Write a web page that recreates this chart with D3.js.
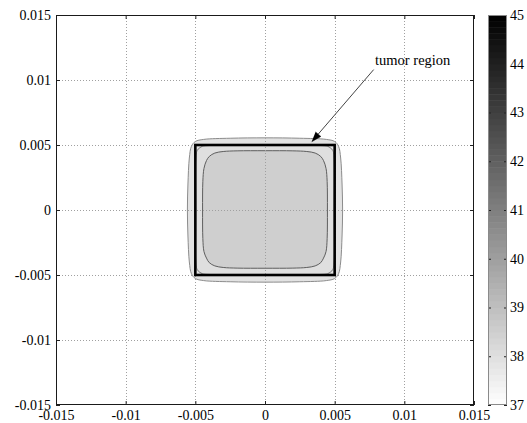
<!DOCTYPE html>
<html><head><meta charset="utf-8">
<script src="https://cdn.jsdelivr.net/npm/d3@7"></script>
<style>body{margin:0;background:#fff}svg{display:block}svg text{font-family:"Liberation Serif",serif !important}</style>
</head><body>
<script>
// ---- data ----
const xTicks = [-0.015, -0.01, -0.005, 0, 0.005, 0.01, 0.015];
const yTicks = [-0.015, -0.01, -0.005, 0, 0.005, 0.01, 0.015];
const xTickLabels = ["-0.015", "-0.01", "-0.005", "0", "0.005", "0.01", "0.015"];
const yTickLabels = ["-0.015", "-0.01", "-0.005", "0", "0.005", "0.01", "0.015"];
const cbTicks = [37, 38, 39, 40, 41, 42, 43, 44, 45];
const cbRange = [37, 45];
const contourLevels = [37.9, 38.0, 38.5];
const outerContour = [
  [0, 0.00555], [0.0025, 0.00552], [0.0044, 0.00543], [0.0050, 0.00527], [0.00528, 0.0049],
  [0.00543, 0.0040], [0.00553, 0.0020], [0.00557, 0], [0.00553, -0.0020], [0.00543, -0.0040],
  [0.00528, -0.0049], [0.0050, -0.00527], [0.0044, -0.00543], [0.0025, -0.00552], [0, -0.00555],
  [-0.0025, -0.00552], [-0.0044, -0.00543], [-0.0050, -0.00527], [-0.00528, -0.0049],
  [-0.00543, -0.0040], [-0.00553, -0.0020], [-0.00557, 0], [-0.00553, 0.0020], [-0.00543, 0.0040],
  [-0.00528, 0.0049], [-0.0050, 0.00527], [-0.0044, 0.00543], [-0.0025, 0.00552]
];
const middleContour = [
  [0, 0.00497], [0.0040, 0.00496], [0.0045, 0.0049], [0.0048, 0.00468], [0.0049, 0.0045],
  [0.00496, 0.0040], [0.00497, 0], [0.00496, -0.0040], [0.0049, -0.0045], [0.0048, -0.00468],
  [0.0045, -0.0049], [0.0040, -0.00496], [0, -0.00497], [-0.0040, -0.00496], [-0.0045, -0.0049],
  [-0.0048, -0.00468], [-0.0049, -0.0045], [-0.00496, -0.0040], [-0.00497, 0], [-0.00496, 0.0040],
  [-0.0049, 0.0045], [-0.0048, 0.00468], [-0.0045, 0.0049], [-0.0040, 0.00496]
];
const innerContour = [
  [0, 0.00456], [0.0020, 0.00455], [0.0030, 0.0045], [0.0036, 0.00438], [0.0040, 0.00412],
  [0.0042, 0.0038], [0.00438, 0.0032], [0.00446, 0.0022], [0.00448, 0], [0.00446, -0.0022],
  [0.00438, -0.0032], [0.0042, -0.0037], [0.0040, -0.00405], [0.0036, -0.0043], [0.0030, -0.00442],
  [0.0020, -0.00447], [0, -0.00448], [-0.0020, -0.00447], [-0.0030, -0.00442], [-0.0036, -0.0043],
  [-0.0040, -0.00405], [-0.0042, -0.0037], [-0.00438, -0.0032], [-0.00446, -0.0022], [-0.00448, 0],
  [-0.00446, 0.0022], [-0.00438, 0.0032], [-0.0042, 0.0038], [-0.0040, 0.00412], [-0.0036, 0.00438],
  [-0.0030, 0.0045], [-0.0020, 0.00455]
];
const contours = [outerContour, middleContour, innerContour];
const contourStroke = ["#8c8c8c", "#7a7a7a", "#5e5e5e"];
const tumorBox = [[-0.005, -0.005], [0.005, 0.005]];
const annotationText = "tumor region";
const annotationPos = [0.0079, 0.01115];
const arrowTail = [0.0078, 0.0108];
const arrowHead = [0.00335, 0.00525];

// ---- layout ----
const W = 527, H = 423;
const plot = {l: 56, r: 474, t: 15, b: 405};
const cb = {l: 488, r: 507};
const FONT = "Liberation Serif, serif";

const svg = d3.select("body").append("svg").attr("width", W).attr("height", H)
  .attr("font-family", FONT).attr("font-size", 14);
svg.append("rect").attr("width", W).attr("height", H).attr("fill", "#fff");

const x = d3.scaleLinear().domain([-0.015, 0.015]).range([plot.l, plot.r]);
const y = d3.scaleLinear().domain([-0.015, 0.015]).range([plot.b, plot.t]);
const gray = d3.scaleLinear().domain(cbRange).range(["#ffffff", "#000000"]);

// filled contours
const line = d3.line().x(d => x(d[0])).y(d => y(d[1])).curve(d3.curveCatmullRomClosed.alpha(0.5));
const cg = svg.append("g");
contours.forEach((c, i) => {
  cg.append("path").attr("d", line(c)).attr("fill", gray(contourLevels[i])).attr("stroke", "none");
});
contours.forEach((c, i) => {
  cg.append("path").attr("d", line(c)).attr("fill", "none").attr("stroke", contourStroke[i]).attr("stroke-width", 1);
});

// grid
const grid = svg.append("g").attr("stroke", "#a0a0a0").attr("stroke-width", 1).attr("stroke-dasharray", "1,2");
xTicks.slice(1, -1).forEach(t => {
  grid.append("line").attr("x1", Math.round(x(t)) + 0.5).attr("x2", Math.round(x(t)) + 0.5)
    .attr("y1", plot.t).attr("y2", plot.b);
});
yTicks.slice(1, -1).forEach(t => {
  grid.append("line").attr("y1", Math.round(y(t)) + 0.5).attr("y2", Math.round(y(t)) + 0.5)
    .attr("x1", plot.l).attr("x2", plot.r);
});

// tumor box
svg.append("rect")
  .attr("x", x(tumorBox[0][0])).attr("y", y(tumorBox[1][1]))
  .attr("width", x(tumorBox[1][0]) - x(tumorBox[0][0]))
  .attr("height", y(tumorBox[0][1]) - y(tumorBox[1][1]))
  .attr("fill", "none").attr("stroke", "#000").attr("stroke-width", 2.6);

// axes using d3 axes with inward ticks
const axB = d3.axisBottom(x).tickValues(xTicks).tickFormat((d, i) => xTickLabels[i]).tickSizeInner(-4).tickSizeOuter(0).tickPadding(5);
const axL = d3.axisLeft(y).tickValues(yTicks).tickFormat((d, i) => yTickLabels[i]).tickSizeInner(-4).tickSizeOuter(0).tickPadding(5);
const axT = d3.axisTop(x).tickValues(xTicks).tickFormat("").tickSizeInner(-4).tickSizeOuter(0);
const axR = d3.axisRight(y).tickValues(yTicks).tickFormat("").tickSizeInner(-4).tickSizeOuter(0);
function style(g) {
  g.attr("font-family", FONT).attr("font-size", 14);
  g.select(".domain").remove();
  g.selectAll(".tick line").attr("stroke", "#222");
  g.selectAll("text").attr("fill", "#000");
}
svg.append("g").attr("transform", `translate(0,${plot.b})`).call(axB).call(style)
  .selectAll("text").attr("dy", "0.71em");
svg.append("g").attr("transform", `translate(${plot.l},0)`).call(axL).call(style);
svg.append("g").attr("transform", `translate(0,${plot.t})`).call(axT).call(style);
svg.append("g").attr("transform", `translate(${plot.r},0)`).call(axR).call(style);
svg.append("rect").attr("x", plot.l + 0.5).attr("y", plot.t + 0.5)
  .attr("width", plot.r - plot.l - 1).attr("height", plot.b - plot.t - 1)
  .attr("fill", "none").attr("stroke", "#1a1a1a").attr("stroke-width", 1);

// annotation
svg.append("text").attr("x", x(annotationPos[0])).attr("y", y(annotationPos[1]))
  .attr("font-size", 14.5).attr("fill", "#000").text(annotationText);
const hx = x(arrowHead[0]), hy = y(arrowHead[1]);
const tx = x(arrowTail[0]), ty = y(arrowTail[1]);
const ang = Math.atan2(hy - ty, hx - tx);
const aLen = 10, aW = 3.5;
const bx = hx - aLen * Math.cos(ang), by = hy - aLen * Math.sin(ang);
svg.append("line").attr("x1", tx).attr("y1", ty).attr("x2", bx).attr("y2", by)
  .attr("stroke", "#444").attr("stroke-width", 1);
svg.append("path").attr("d", d3.line()([
  [hx, hy],
  [bx + aW * Math.sin(ang), by - aW * Math.cos(ang)],
  [bx - aW * Math.sin(ang), by + aW * Math.cos(ang)]
])).attr("fill", "#000").attr("stroke", "#000").attr("stroke-width", 0.5).attr("stroke-linejoin", "miter");

// colorbar
const cy = d3.scaleLinear().domain(cbRange).range([plot.b, plot.t]);
const nSteps = 64;
const steps = d3.range(nSteps).map(i => cbRange[0] + (cbRange[1] - cbRange[0]) * i / nSteps);
const stepH = (cbRange[1] - cbRange[0]) / nSteps;
svg.append("g").selectAll("rect").data(steps).join("rect")
  .attr("x", cb.l).attr("width", cb.r - cb.l)
  .attr("y", d => cy(d + stepH)).attr("height", d => cy(d) - cy(d + stepH) + 0.5)
  .attr("fill", d => gray(d + stepH / 2));
const cbAxR = d3.axisRight(cy).tickValues(cbTicks).tickFormat(d3.format("d")).tickSizeInner(-3).tickSizeOuter(0).tickPadding(3);
const cbAxL = d3.axisLeft(cy).tickValues(cbTicks).tickFormat("").tickSizeInner(-3).tickSizeOuter(0);
svg.append("g").attr("transform", `translate(${cb.r},0)`).call(cbAxR).call(style);
svg.append("g").attr("transform", `translate(${cb.l},0)`).call(cbAxL).call(style);
svg.append("rect").attr("x", cb.l + 0.5).attr("y", plot.t + 0.5)
  .attr("width", cb.r - cb.l - 1).attr("height", plot.b - plot.t - 1)
  .attr("fill", "none").attr("stroke", "#8a8a8a").attr("stroke-width", 1);
</script>
</body></html>
